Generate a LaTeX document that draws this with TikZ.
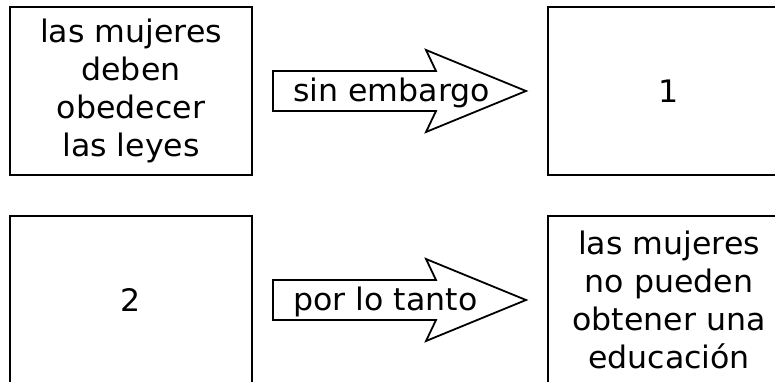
\documentclass[tikz,border=0pt]{standalone}
\usepackage{fontspec}
\setmainfont{DejaVu Sans}[FakeStretch=1.02]
\usetikzlibrary{positioning}

\begin{document}
\begin{tikzpicture}[x=1pt,y=-1pt,node distance=39pt and 294pt,
    font=\fontsize{31}{38}\selectfont,
    box/.style={draw,line width=2pt,minimum width=242pt,minimum height=168pt,inner sep=0pt,align=center},
    cue/.style={draw,line width=1.8pt},
    cuetext/.style={anchor=base west,inner sep=0pt}]
    \clip (0,0) rectangle (775,381);
    \node[box] (premise) at (131,91) {las mujeres\\deben\\obedecer\\las leyes};
    \node[box,right=of premise] (gap1) {1};
    \node[box,below=of premise] (gap2) {2};
    \node[box,right=of gap2] (result) {las mujeres\\no pueden\\obtener una\\educación};
    \draw[cue] ([xshift=20pt,yshift=20pt]premise.east) -- ++(163,0) -- ++(-10,-21) -- ++(100,41)
        -- ++(-100,41) -- ++(10,-21) -- ++(-163,0) -- cycle;
    \node[cuetext] (cue1) at ([xshift=40pt,yshift=-10.5pt]premise.east) {sin embargo};
    \draw[cue] ([xshift=20pt,yshift=20pt]gap2.east) -- ++(163,0) -- ++(-10,-21) -- ++(100,41)
        -- ++(-100,41) -- ++(10,-21) -- ++(-163,0) -- cycle;
    \node[cuetext] (cue2) at ([xshift=40pt,yshift=-10.5pt]gap2.east) {por lo tanto};
\end{tikzpicture}
\end{document}
